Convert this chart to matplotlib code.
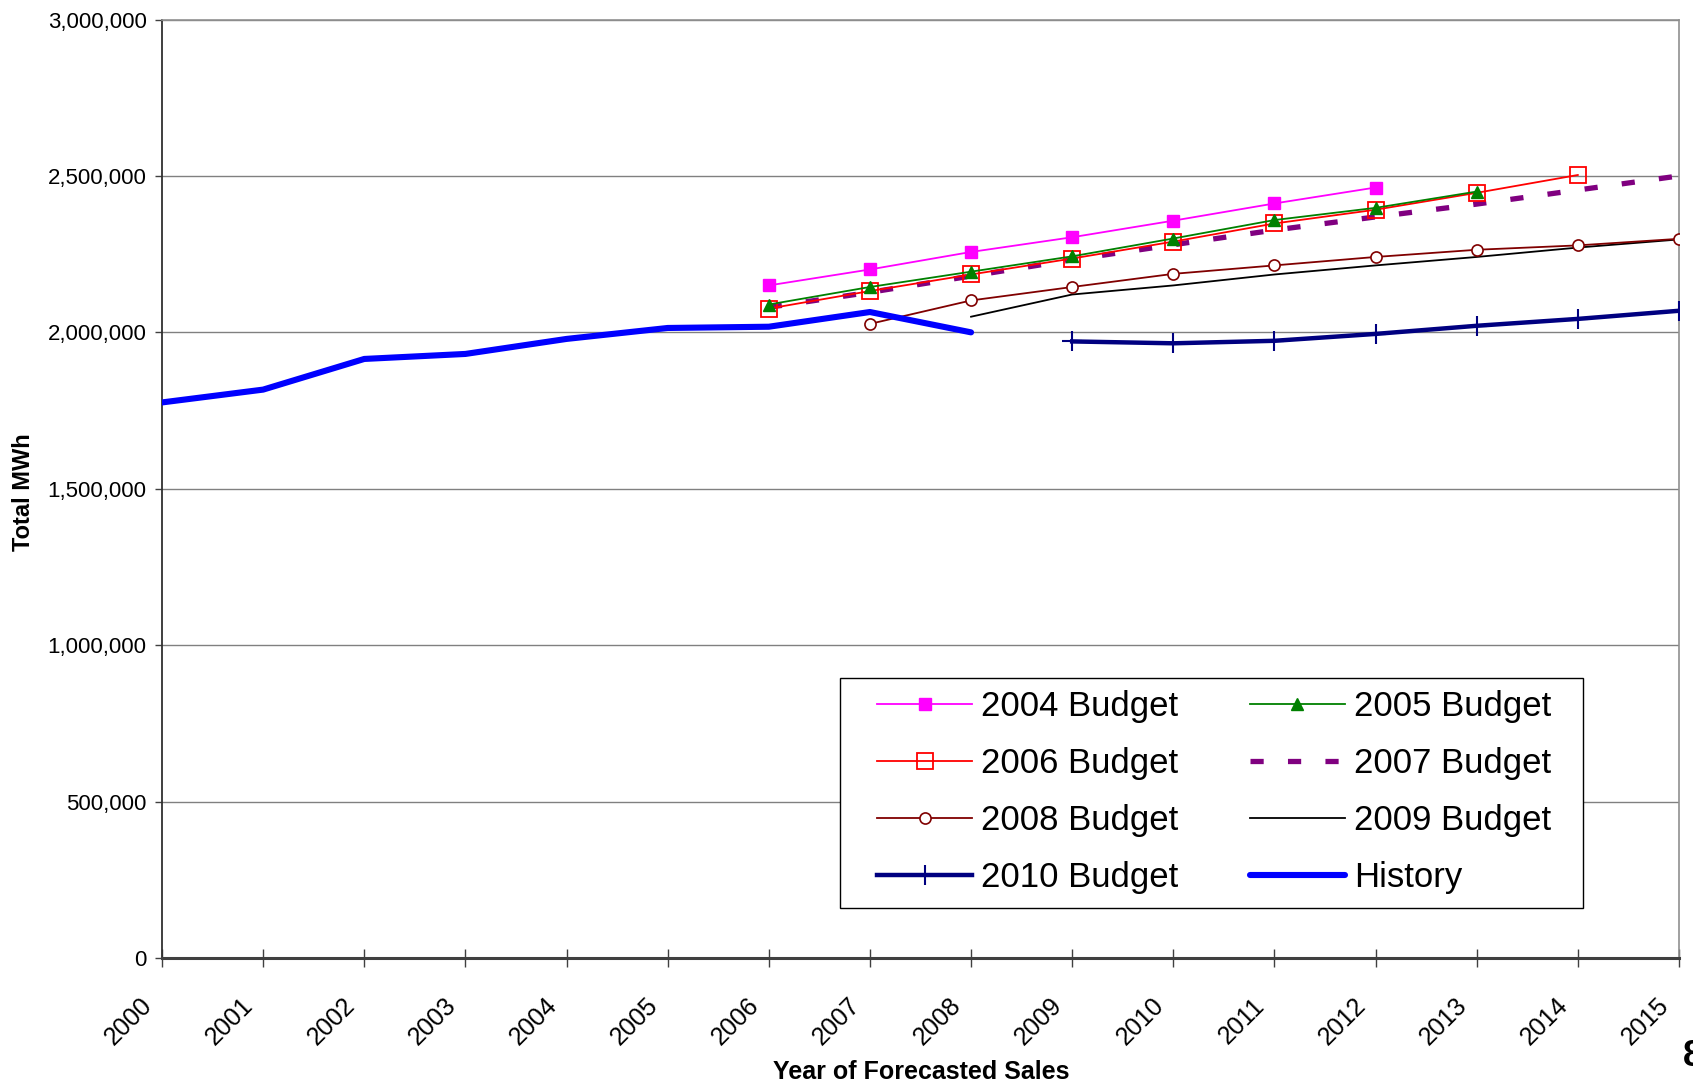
import matplotlib
matplotlib.use("Agg")
import matplotlib.pyplot as plt
from matplotlib.ticker import FuncFormatter
from matplotlib.patches import Rectangle
from matplotlib.transforms import ScaledTranslation

plt.rcParams['font.family'] = ['Liberation Sans', 'DejaVu Sans']

years = list(range(2000, 2016))

hist_years = list(range(2000, 2009))
history = [1776000, 1817000, 1915000, 1931000, 1979000, 2014000, 2018000, 2065000, 2000000]

b2004_years = list(range(2006, 2013))
b2004 = [2150000, 2201000, 2257000, 2304000, 2357000, 2412000, 2463000]

b2005_years = list(range(2006, 2014))
b2005 = [2089000, 2145000, 2194000, 2243000, 2300000, 2359000, 2398000, 2450000]

b2006_years = list(range(2006, 2015))
b2006 = [2076000, 2132000, 2185000, 2236000, 2290000, 2348000, 2392000, 2446000, 2503000]

b2007_years = list(range(2006, 2016))
b2007 = [2080000, 2128000, 2180000, 2232000, 2280000, 2327000, 2369000, 2410000, 2455000, 2500000]

b2008_years = list(range(2007, 2016))
b2008 = [2027000, 2102000, 2145000, 2187000, 2214000, 2241000, 2264000, 2278000, 2299000]

b2009_years = list(range(2008, 2016))
b2009 = [2050000, 2121000, 2150000, 2185000, 2214000, 2241000, 2271000, 2297000]

b2010_years = list(range(2009, 2016))
b2010 = [1971000, 1965000, 1973000, 1995000, 2021000, 2043000, 2069000]

y_ticks = [0, 500000, 1000000, 1500000, 2000000, 2500000, 3000000]

fig = plt.figure(figsize=(16.93, 10.84), dpi=100)
ax = fig.add_axes([0.0957, 0.1162, 0.8960, 0.8658])

h04, = ax.plot(b2004_years, b2004, color='#FF00FF', lw=1.3, marker='s', ms=8,
               mfc='#FF00FF', mec='#FF00FF', label='2004 Budget', zorder=3)
h05, = ax.plot(b2005_years, b2005, color='#008000', lw=1.3, marker='^', ms=9,
               mfc='#008000', mec='#008000', label='2005 Budget', zorder=4)
h06, = ax.plot(b2006_years, b2006, color='#FF0000', lw=1.3, marker='s', ms=11,
               mfc='none', mec='#FF0000', mew=1.3, label='2006 Budget', zorder=3)
h07, = ax.plot(b2007_years, b2007, color='#800080', lw=3.8, ls=(0, (2.5, 4.6)),
               dash_capstyle='butt', label='2007 Budget', zorder=2)
h08, = ax.plot(b2008_years, b2008, color='#800000', lw=1.3, marker='o', ms=8,
               mfc='white', mec='#800000', mew=1.2, label='2008 Budget', zorder=3)
h09, = ax.plot(b2009_years, b2009, color='black', lw=1.3, label='2009 Budget', zorder=2)
h10, = ax.plot(b2010_years, b2010, color='#000080', lw=3.2, marker='+', ms=14,
               mew=1.5, label='2010 Budget', zorder=3)
hh, = ax.plot(hist_years, history, color='#0000FF', lw=4.4, label='History',
              solid_capstyle='round', zorder=3)

ax.set_xlim(2000, 2015)
ax.set_ylim(0, 3000000)
ax.set_xticks(years)
ax.set_xticklabels([str(y) for y in years], rotation=45, ha='right', va='top',
                   rotation_mode='anchor', fontsize=18)
ax.set_yticks(y_ticks)
ax.yaxis.set_major_formatter(FuncFormatter(lambda v, p: f"{int(v):,}"))
ax.tick_params(axis='y', labelsize=16, length=5, width=1, color='#404040', pad=6)
ax.tick_params(axis='x', direction='inout', length=13, width=1, color='#404040', pad=19)
off = ScaledTranslation(-0.22, 0, fig.dpi_scale_trans)
for lab in ax.get_xticklabels():
    lab.set_transform(lab.get_transform() + off)

ax.grid(axis='y', color='#808080', lw=1)
ax.set_axisbelow(True)
for s in ['top', 'right']:
    ax.spines[s].set_color('#909090')
    ax.spines[s].set_linewidth(1.2)
ax.spines['left'].set_color('#303030')
ax.spines['left'].set_linewidth(1.3)
ax.spines['bottom'].set_color('#404040')
ax.spines['bottom'].set_linewidth(2.2)

ax.set_ylabel('Total MWh', fontsize=17, fontweight='bold')
ax.yaxis.set_label_coords(-0.091, 0.496)
ax.yaxis.label.set_verticalalignment('center')
ax.set_xlabel('Year of Forecasted Sales', fontsize=18, fontweight='bold')
ax.xaxis.set_label_coords(0.5003, -0.121)
ax.xaxis.label.set_verticalalignment('center')

# legend frame
frame = Rectangle((0.4469, 0.0532), 0.4898, 0.2449, transform=ax.transAxes,
                  facecolor='white', edgecolor='black', lw=1.0, zorder=5)
ax.add_patch(frame)

handles = [h04, h06, h08, h10, h05, h07, h09, hh]
leg = ax.legend(handles=handles, labels=[h.get_label() for h in handles],
                ncol=2, loc='upper left', bbox_to_anchor=(0.4634, 0.2982),
                borderaxespad=0, fontsize=25, handlelength=2.74, handletextpad=0.26,
                columnspacing=2.05, labelspacing=0.69, borderpad=0.35,
                frameon=False)
leg.set_zorder(6)

fig.text(1683 / 1693, 1 - 1056 / 1084, '8', fontsize=26, fontweight='bold',
         ha='left', va='center')

fig.savefig('out.png', dpi=100)
